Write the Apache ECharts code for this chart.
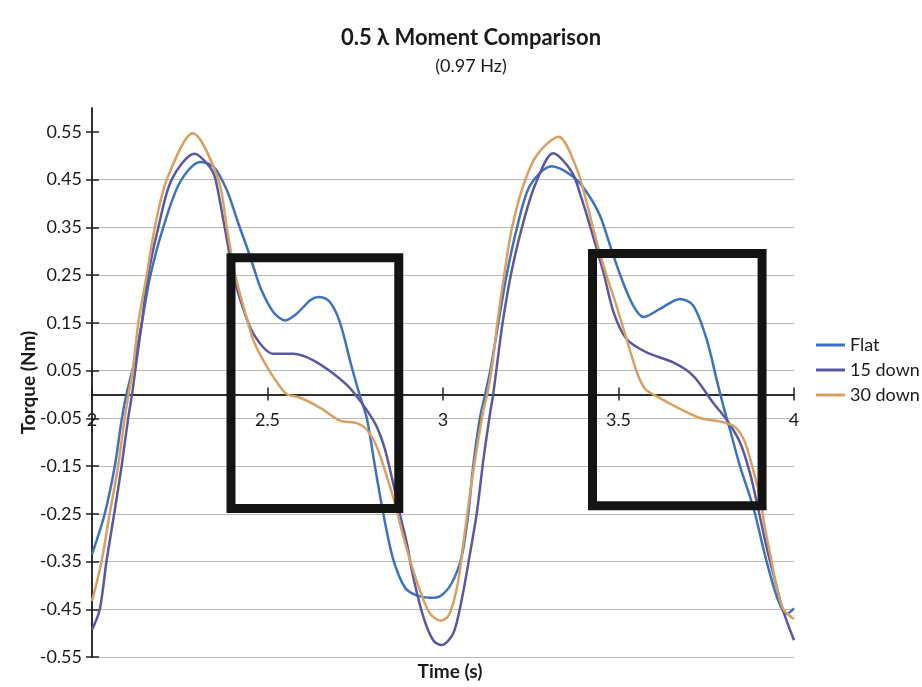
<!DOCTYPE html>
<html><head><meta charset="utf-8">
<script src="https://cdn.jsdelivr.net/npm/echarts@6/dist/echarts.min.js"></script>
<style>html,body{margin:0;padding:0;background:#fff}#c{width:922px;height:687px}</style>
</head><body><div id="c"></div>
<script>
const titleText = '0.5 λ Moment Comparison';
const subText = '(0.97 Hz)';
const xName = 'Time (s)';
const yName = 'Torque (Nm)';
const seriesNames = ['Flat', '15 down', '30 down'];
const xTicks = [2, 2.5, 3, 3.5, 4];
const yTicks = [-0.55, -0.45, -0.35, -0.25, -0.15, -0.05, 0.05, 0.15, 0.25, 0.35, 0.45, 0.55];
const yRange = [-0.55, 0.6];

// [time (s), torque (Nm)]
const flat = [
  [2.000,-0.335],[2.036,-0.251],[2.065,-0.150],[2.083,-0.060],[2.098,0.000],[2.118,0.060],
  [2.142,0.150],[2.165,0.245],[2.203,0.350],[2.251,0.445],[2.308,0.487],[2.346,0.477],
  [2.384,0.428],[2.417,0.358],[2.441,0.309],[2.460,0.267],[2.483,0.218],[2.517,0.172],
  [2.550,0.155],[2.583,0.169],[2.621,0.197],[2.645,0.204],[2.673,0.197],[2.697,0.169],
  [2.716,0.127],[2.735,0.071],[2.762,0.000],[2.783,-0.050],[2.806,-0.150],[2.830,-0.250],
  [2.858,-0.345],[2.892,-0.405],[2.925,-0.421],[2.963,-0.426],[2.991,-0.423],[3.025,-0.395],
  [3.053,-0.340],[3.072,-0.250],[3.086,-0.150],[3.105,-0.050],[3.120,0.000],[3.136,0.055],
  [3.158,0.151],[3.181,0.249],[3.210,0.347],[3.248,0.438],[3.310,0.478],[3.371,0.456],
  [3.409,0.424],[3.447,0.375],[3.476,0.312],[3.509,0.242],[3.542,0.186],[3.571,0.162],
  [3.618,0.179],[3.675,0.200],[3.713,0.186],[3.751,0.116],[3.780,0.030],[3.799,-0.025],
  [3.818,-0.075],[3.846,-0.150],[3.875,-0.215],[3.889,-0.250],[3.922,-0.350],[3.955,-0.432],
  [3.979,-0.460],[4.000,-0.448]
];
const down15 = [
  [2.000,-0.493],[2.022,-0.451],[2.041,-0.351],[2.063,-0.251],[2.084,-0.152],[2.103,-0.050],
  [2.114,0.000],[2.125,0.060],[2.142,0.150],[2.160,0.250],[2.189,0.350],[2.227,0.450],
  [2.292,0.504],[2.336,0.476],[2.352,0.450],[2.378,0.350],[2.403,0.250],[2.423,0.197],
  [2.460,0.127],[2.518,0.085],[2.575,0.085],[2.632,0.071],[2.689,0.043],[2.726,0.020],
  [2.750,0.000],[2.783,-0.033],[2.811,-0.067],[2.835,-0.116],[2.858,-0.186],[2.877,-0.250],
  [2.897,-0.312],[2.915,-0.382],[2.944,-0.466],[2.972,-0.515],[2.996,-0.525],[3.029,-0.501],
  [3.053,-0.431],[3.077,-0.333],[3.096,-0.250],[3.115,-0.137],[3.134,-0.040],[3.143,0.000],
  [3.157,0.080],[3.170,0.151],[3.193,0.249],[3.224,0.347],[3.262,0.438],[3.314,0.505],
  [3.367,0.466],[3.395,0.410],[3.424,0.340],[3.457,0.256],[3.486,0.172],[3.523,0.116],
  [3.580,0.088],[3.656,0.067],[3.713,0.039],[3.770,-0.018],[3.808,-0.053],[3.846,-0.100],
  [3.875,-0.166],[3.899,-0.243],[3.922,-0.320],[3.946,-0.390],[3.969,-0.453],[4.000,-0.515]
];
const down30 = [
  [2.000,-0.433],[2.027,-0.351],[2.050,-0.251],[2.074,-0.152],[2.093,-0.050],[2.104,0.000],
  [2.116,0.050],[2.132,0.150],[2.156,0.250],[2.179,0.350],[2.213,0.450],[2.287,0.547],
  [2.360,0.450],[2.384,0.350],[2.408,0.250],[2.432,0.183],[2.460,0.113],[2.499,0.057],
  [2.537,0.015],[2.556,0.000],[2.593,-0.007],[2.650,-0.028],[2.707,-0.055],[2.754,-0.060],
  [2.783,-0.074],[2.811,-0.109],[2.840,-0.172],[2.863,-0.228],[2.882,-0.284],[2.906,-0.347],
  [2.934,-0.410],[2.963,-0.459],[2.993,-0.474],[3.017,-0.462],[3.041,-0.400],[3.058,-0.312],
  [3.077,-0.207],[3.096,-0.116],[3.115,-0.033],[3.126,0.000],[3.140,0.060],[3.155,0.151],
  [3.174,0.249],[3.196,0.347],[3.229,0.438],[3.267,0.501],[3.329,0.540],[3.381,0.473],
  [3.409,0.403],[3.438,0.319],[3.466,0.249],[3.494,0.186],[3.523,0.116],[3.552,0.047],
  [3.575,0.012],[3.609,-0.004],[3.675,-0.030],[3.735,-0.050],[3.792,-0.057],[3.830,-0.067],
  [3.858,-0.096],[3.884,-0.159],[3.903,-0.215],[3.917,-0.278],[3.932,-0.334],[3.951,-0.404],
  [3.969,-0.449],[3.993,-0.467],[4.000,-0.470]
];
// highlighted regions drawn on the chart (data coordinates)
const boxes = [
  {t0: 2.396, t1: 2.874, v0: -0.239, v1: 0.2865},
  {t0: 3.426, t1: 3.909, v0: -0.233, v1: 0.295}
];

const colors = ['#3d71c1', '#5a57a3', '#d9a062'];
const FONT = 'Lato';
const W = 922, H = 687;
const G = {left: 92, right: 128, top: 108, bottom: 30};
const gridH = H - G.top - G.bottom, gridW = W - G.left - G.right;
// distance of the value 0 from the bottom / top edge of the plot
const zeroFromBottom = (0 - yRange[0]) / (yRange[1] - yRange[0]) * gridH;
const zeroFromTop = gridH - zeroFromBottom;

function boxPath(b) {
  return [[b.t0, b.v1], [b.t1, b.v1], [b.t1, b.v0], [b.t0, b.v0], [b.t0, b.v1]];
}

const chart = echarts.init(document.getElementById('c'), null, {renderer: 'canvas'});
const lineSeries = [flat, down15, down30].map((d, i) => ({
  name: seriesNames[i], type: 'line', data: d, smooth: 0.3, symbol: 'none',
  lineStyle: {width: 2.5, color: colors[i]}, itemStyle: {color: colors[i]}, z: 3
}));
const boxSeries = boxes.map((b, i) => ({
  name: 'box' + i, type: 'line', data: boxPath(b), symbol: 'none', smooth: false,
  lineStyle: {width: 9, color: '#141414', cap: 'square', join: 'miter'}, z: 5, silent: true
}));

const axisCol = '#222';
const xBase = {type: 'value', min: xTicks[0], max: xTicks[xTicks.length - 1], interval: 0.5, splitLine: {show: false}};
const yBase = {type: 'value', min: yRange[0], max: yRange[1], interval: 0.1};

chart.setOption({
  animation: false,
  backgroundColor: '#fff',
  title: [
    {text: titleText, subtext: subText, left: 466, top: 22, textAlign: 'center', itemGap: 8,
     textStyle: {fontFamily: FONT, fontSize: 22, fontWeight: 'bold', color: '#1a1a1a'},
     subtextStyle: {fontFamily: FONT, fontSize: 18, color: '#1a1a1a'}},
    {text: xName, left: 445, top: 657, textAlign: 'center',
     textStyle: {fontFamily: FONT, fontSize: 19, fontWeight: 'bold', color: '#1a1a1a'}}
  ],
  legend: {
    data: seriesNames, orient: 'vertical', left: 811, top: 330, icon: 'rect',
    itemWidth: 29, itemHeight: 3, itemGap: 5,
    textStyle: {fontFamily: FONT, fontSize: 18, color: '#1a1a1a', lineHeight: 20}
  },
  grid: Object.assign({containLabel: false}, G),
  xAxis: [
    Object.assign({}, xBase, {position: 'bottom', offset: -zeroFromBottom,
      axisLine: {onZero: false, lineStyle: {color: axisCol, width: 1.5}},
      axisTick: {show: true, length: 6, lineStyle: {color: axisCol, width: 1.5}},
      axisLabel: {margin: 17, fontFamily: FONT, fontSize: 18, color: '#1a1a1a', formatter: v => String(v)}}),
    Object.assign({}, xBase, {position: 'top', offset: -zeroFromTop,
      axisLine: {show: true, onZero: false, lineStyle: {color: axisCol, width: 1.5}},
      axisTick: {show: true, length: 7, lineStyle: {color: axisCol, width: 1.5}},
      axisLabel: {show: false}})
  ],
  yAxis: [
    Object.assign({}, yBase, {position: 'left',
      name: yName, nameLocation: 'middle', nameGap: 54, nameRotate: 90, nameMoveOverlap: false,
      nameTextStyle: {fontFamily: FONT, fontSize: 19, fontWeight: 'bold', color: '#1a1a1a'},
      axisLine: {show: true, onZero: false, lineStyle: {color: axisCol, width: 1.5}},
      axisTick: {show: true, length: 6, customValues: yTicks, lineStyle: {color: axisCol, width: 1.5}},
      axisLabel: {margin: 10, fontFamily: FONT, fontSize: 18, color: '#1a1a1a', customValues: yTicks,
        formatter: v => (v > 0.56 ? '' : v.toFixed(2))},
      splitLine: {show: true, showMaxLine: false, lineStyle: {color: '#b9b9b9', width: 1}}}),
    Object.assign({}, yBase, {position: 'right', offset: -gridW,
      axisLine: {show: true, onZero: false, lineStyle: {color: axisCol, width: 1.5}},
      axisTick: {show: true, length: 7, customValues: yTicks, lineStyle: {color: axisCol, width: 1.5}},
      axisLabel: {show: false}, splitLine: {show: false}})
  ],
  series: lineSeries.concat(boxSeries)
});
</script>
</body></html>
